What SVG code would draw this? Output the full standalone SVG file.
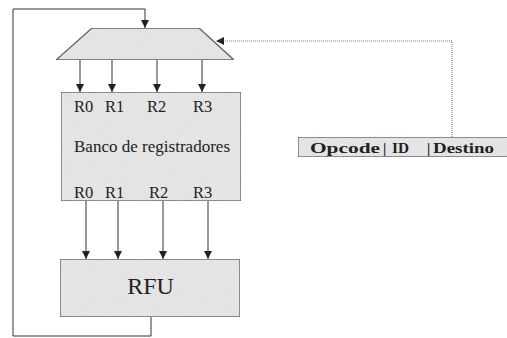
<svg xmlns="http://www.w3.org/2000/svg" width="507" height="338" viewBox="0 0 507 338">
<style>
.box{fill:#e9e9e9;stroke:#444;stroke-width:1.3;filter:url(#grain)}
.ln{fill:none;stroke:#333;stroke-width:1}
.dot{fill:none;stroke:#777;stroke-width:1;stroke-dasharray:1 1}
.t{font-family:"Liberation Serif",serif;fill:#222}
</style>
<defs>
<filter id="grain" x="0" y="0" width="1" height="1">
<feTurbulence type="fractalNoise" baseFrequency="0.9" numOctaves="2" seed="3" result="n"/>
<feColorMatrix in="n" type="matrix" values="0 0 0 0 0.55  0 0 0 0 0.55  0 0 0 0 0.55  0 0 0 0.3 0" result="g"/>
<feComposite in="g" in2="SourceGraphic" operator="atop"/>
</filter>
<marker id="ah" viewBox="0 0 10 10" refX="10" refY="5" markerWidth="8" markerHeight="8" markerUnits="userSpaceOnUse" orient="auto">
<path d="M0,0 L10,5 L0,10 z" fill="#222"/>
</marker>
</defs>
<rect width="507" height="338" fill="#fff"/>
<g id="mux">
<polygon class="box" points="92,28 199,28 234,60 56,60"/>
</g>
<g id="banco">
<rect class="box" x="61" y="92" width="180" height="109"/>
<g class="t" font-size="16.5">
<text x="74" y="112">R0</text><text x="105" y="112">R1</text><text x="147" y="112">R2</text><text x="193" y="112">R3</text>
<text x="74" y="152" font-size="17" textLength="156">Banco de registradores</text>
<text x="74" y="198">R0</text><text x="105" y="198">R1</text><text x="149" y="198">R2</text><text x="193" y="198">R3</text>
</g>
</g>
<g id="rfu">
<rect class="box" x="60" y="259" width="180" height="58"/>
<text class="t" x="150.5" y="294" font-size="24" text-anchor="middle">RFU</text>
</g>
<g id="instr">
<rect class="box" x="298" y="137" width="210" height="20"/>
<g class="t" font-size="15" font-weight="bold">
<text x="310" y="153" textLength="70" lengthAdjust="spacingAndGlyphs">Opcode</text>
<text x="383" y="153">|</text>
<text x="392" y="153" textLength="17" lengthAdjust="spacingAndGlyphs">ID</text>
<text x="427" y="153">|</text>
<text x="433" y="153" textLength="61" lengthAdjust="spacingAndGlyphs">Destino</text>
</g>
</g>
<g id="connectors">
<path class="ln" d="M151,317 V336 H13 V9 H145 V28" marker-end="url(#ah)"/>
<path class="ln" d="M80,60 V92" marker-end="url(#ah)"/>
<path class="ln" d="M112,60 V92" marker-end="url(#ah)"/>
<path class="ln" d="M157,60 V92" marker-end="url(#ah)"/>
<path class="ln" d="M202,60 V92" marker-end="url(#ah)"/>
<path class="ln" d="M86,201 V259" marker-end="url(#ah)"/>
<path class="ln" d="M118,201 V259" marker-end="url(#ah)"/>
<path class="ln" d="M163,201 V259" marker-end="url(#ah)"/>
<path class="ln" d="M208,201 V259" marker-end="url(#ah)"/>
<path class="dot" d="M452,137 V41 H216" marker-end="url(#ah)"/>
</g>
</svg>
